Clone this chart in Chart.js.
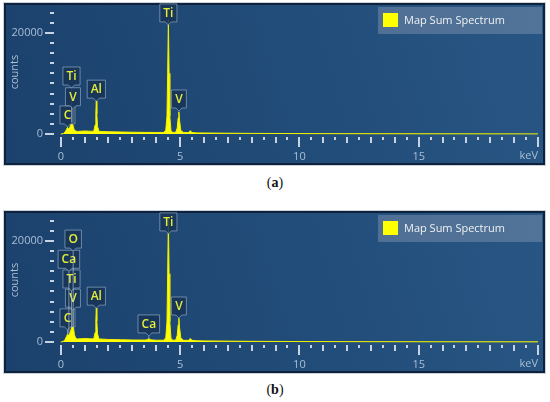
<!DOCTYPE html>
<html>
<head>
<meta charset="utf-8">
<script src="https://cdn.jsdelivr.net/npm/chart.js@4.4.1/dist/chart.umd.min.js"></script>
<style>
	body { margin: 0; background: #fff; width: 550px; height: 402px; position: relative; overflow: hidden; }
	.wrap { position: absolute; left: 0; width: 550px; height: 170px; }
	.cap { position: absolute; left: 0; width: 550px; text-align: center; font-family: "Liberation Serif", "DejaVu Serif", serif; font-size: 14px; color: #111; }
</style>
</head>
<body>
<div class="wrap" style="top:0"><canvas id="chartA" width="550" height="170"></canvas></div>
<div class="cap" style="top:175px">(<b>a</b>)</div>
<div class="wrap" style="top:208px"><canvas id="chartB" width="550" height="170"></canvas></div>
<div class="cap" style="top:382px">(<b>b</b>)</div>
<script>
// Spectrum (a)
const energyA = [0, 0.1, 0.18, 0.24, 0.28, 0.32, 0.38, 0.42, 0.45, 0.48, 0.52, 0.56, 0.62, 0.7, 0.85, 1.0, 1.2, 1.38, 1.44, 1.47, 1.49, 1.51, 1.54, 1.6, 1.8, 2.0, 2.5, 3.0, 3.5, 4.0, 4.3, 4.4, 4.45, 4.48, 4.51, 4.54, 4.57, 4.62, 4.7, 4.82, 4.88, 4.92, 4.95, 4.98, 5.03, 5.15, 5.35, 5.43, 5.5, 5.7, 6.0, 7.0, 8.0, 10, 12, 15, 20];
const countsA = [0, 50, 400, 900, 1300, 1100, 1300, 1900, 2300, 2100, 1600, 900, 600, 500, 550, 600, 550, 520, 1800, 4200, 6500, 4000, 1500, 520, 480, 450, 400, 350, 320, 300, 300, 700, 3500, 12000, 22600, 12000, 3500, 600, 300, 350, 1200, 3200, 4400, 2600, 700, 280, 300, 650, 300, 220, 200, 150, 120, 80, 60, 40, 20];
const peakNamesA = ["C", "Ti", "V", "Al", "Ti", "V"];
const peakEnergyA = [0.28, 0.45, 0.51, 1.49, 4.51, 4.95];
const peakTipA = [1400, 9100, 5000, 6500, 21600, 4550];
const peakBaseA = [1300, 2300, 2200, 6500, 21600, 4550];

// Spectrum (b)
const energyB = [0, 0.1, 0.18, 0.24, 0.28, 0.32, 0.36, 0.42, 0.46, 0.5, 0.53, 0.57, 0.62, 0.7, 0.85, 1.0, 1.2, 1.38, 1.44, 1.47, 1.49, 1.51, 1.54, 1.6, 1.8, 2.0, 2.5, 3.0, 3.5, 3.6, 3.69, 3.78, 4.0, 4.3, 4.4, 4.45, 4.48, 4.51, 4.54, 4.57, 4.62, 4.7, 4.82, 4.88, 4.92, 4.95, 4.98, 5.03, 5.15, 5.35, 5.43, 5.5, 5.7, 6.0, 7.0, 8.0, 10, 12, 15, 20];
const countsB = [0, 80, 500, 1100, 1500, 1400, 1500, 2300, 2900, 3300, 3000, 1500, 800, 600, 650, 700, 650, 600, 1900, 4300, 6700, 4200, 1600, 600, 550, 500, 450, 400, 380, 420, 650, 420, 350, 350, 800, 4000, 13500, 24500, 13500, 4000, 700, 350, 400, 1300, 3400, 4700, 2800, 800, 320, 330, 700, 330, 250, 220, 170, 130, 90, 70, 45, 25];
const peakNamesB = ["C", "V", "Ti", "Ca", "O", "Al", "Ca", "Ti", "V"];
const peakEnergyB = [0.28, 0.51, 0.45, 0.34, 0.52, 1.49, 3.69, 4.51, 4.95];
const peakTipB = [2400, 6300, 10100, 14000, 18000, 6700, 1200, 21400, 4750];
const peakBaseB = [1500, 3200, 2900, 1500, 3100, 6700, 650, 21400, 4750];

const xLabels = [0, 5, 10, 15];
const yLabels = [0, 20000];
const seriesName = "Map Sum Spectrum";

const axisColor = "#a9bfd6";
const tickColor = "#c6d3e1";
const font = { family: "'Open Sans', sans-serif", size: 11 };

// panel background, border and legend box
const panelPlugin = {
	id: "panel",
	beforeDraw(chart) {
		const c = chart.ctx;
		c.save();
		c.fillStyle = "#c9d2db";
		c.fillRect(3, 2, 543, 164);
		c.fillStyle = "#0f223b";
		c.fillRect(4, 3, 541, 162);
		const g = c.createLinearGradient(6, 160, 545, 5);
		g.addColorStop(0, "#1b416c");
		g.addColorStop(1, "#285684");
		c.fillStyle = g;
		c.fillRect(6, 5, 537, 158);
		c.restore();
	},
	afterDraw(chart) {
		const c = chart.ctx;
		c.save();
		c.fillStyle = "rgba(140,158,180,0.42)";
		c.fillRect(378, 7, 164, 27);
		c.fillStyle = "#ffff00";
		c.fillRect(383, 13, 15, 14);
		c.fillStyle = "#eef2f6";
		c.font = "11px 'Open Sans', sans-serif";
		c.textBaseline = "middle";
		c.fillText(chart.data.datasets[0].label, 404, 20.5);
		c.restore();
	},
};

// tick marks of varying length
const tickPlugin = {
	id: "ticks",
	afterDraw(chart) {
		const c = chart.ctx;
		const xs = chart.scales.x, ys = chart.scales.y;
		c.save();
		c.fillStyle = tickColor;
		for (let v = 0; v <= 24000; v += 2000) {
			const y = Math.round(ys.getPixelForValue(v));
			const x1 = v % 20000 === 0 ? 45 : 50;
			c.fillRect(x1, y - 1, 54 - x1, 2);
		}
		for (let i = 0; i <= 40; i++) {
			const v = i / 2;
			const x = Math.round(xs.getPixelForValue(v));
			let len = 3;
			if (v % 5 === 0) len = 10;
			else if (v % 1 === 0) len = 6;
			c.fillRect(x - 1, 137, 2, len);
		}
		c.restore();
	},
};

// element labels with pointer
const peakPlugin = {
	id: "peaks",
	afterDatasetsDraw(chart, args, opts) {
		const c = chart.ctx;
		const xs = chart.scales.x, ys = chart.scales.y;
		c.save();
		c.font = "600 12px 'Open Sans', sans-serif";
		c.textAlign = "center";
		c.textBaseline = "middle";
		opts.names.forEach((name, i) => {
			const x = xs.getPixelForValue(opts.energy[i]);
			const tip = ys.getPixelForValue(opts.tip[i]);
			const base = ys.getPixelForValue(opts.base[i]);
			if (base - tip > 2) {
				c.strokeStyle = "rgba(190,205,220,0.6)";
				c.lineWidth = 1;
				c.beginPath();
				c.moveTo(x, tip);
				c.lineTo(x, base);
				c.stroke();
			}
			const w = Math.max(15, c.measureText(name).width + 7);
			const h = 18;
			const top = tip - 3 - h;
			c.beginPath();
			c.moveTo(x - w / 2, top);
			c.lineTo(x + w / 2, top);
			c.lineTo(x + w / 2, top + h);
			c.lineTo(x + 3, top + h);
			c.lineTo(x, tip);
			c.lineTo(x - 3, top + h);
			c.lineTo(x - w / 2, top + h);
			c.closePath();
			c.fillStyle = "rgba(24,52,86,0.88)";
			c.fill();
			c.strokeStyle = "rgba(160,185,210,0.6)";
			c.lineWidth = 1;
			c.stroke();
			c.fillStyle = "#e4ec3c";
			c.fillText(name, x, top + h / 2 + 0.5);
		});
		c.restore();
	},
};

function makeChart(id, energy, counts, names, pEnergy, pTip, pBase) {
	return new Chart(document.getElementById(id), {
		type: "line",
		data: {
			datasets: [
				{
					label: seriesName,
					data: energy.map((e, i) => ({ x: e, y: counts[i] })),
					borderColor: "#f2f200",
					backgroundColor: "#ffff00",
					borderWidth: 1,
					pointRadius: 0,
					fill: "origin",
					tension: 0,
				},
			],
		},
		options: {
			responsive: false,
			animation: false,
			layout: { padding: { left: 4, right: 12, top: 9, bottom: 8 } },
			plugins: {
				legend: { display: false },
				tooltip: { enabled: false },
				peaks: { names: names, energy: pEnergy, tip: pTip, base: pBase },
			},
			scales: {
				x: {
					type: "linear",
					min: -0.2,
					max: 20,
					grid: { display: false },
					border: { display: false },
					afterBuildTicks: (s) => { s.ticks = xLabels.map((value) => ({ value })); },
					afterFit: (s) => { s.height = 27; s.paddingLeft = 0; s.paddingRight = 0; },
					ticks: { color: axisColor, font: font, padding: 7, maxRotation: 0, autoSkip: false, callback: (v) => String(v) },
					title: { display: true, text: "keV", align: "end", color: axisColor, font: font, padding: { top: 0, bottom: 0 } },
				},
				y: {
					type: "linear",
					min: -200,
					max: 24750,
					grid: { display: false },
					border: { display: false },
					afterBuildTicks: (s) => { s.ticks = yLabels.map((value) => ({ value })); },
					afterFit: (s) => { s.width = 52; s.paddingTop = 0; s.paddingBottom = 0; },
					ticks: { color: axisColor, font: font, padding: 5, callback: (v) => String(v) },
					title: { display: true, text: "counts", color: axisColor, font: font, padding: { top: 4, bottom: 0 } },
				},
			},
		},
		plugins: [panelPlugin, tickPlugin, peakPlugin],
	});
}

makeChart("chartA", energyA, countsA, peakNamesA, peakEnergyA, peakTipA, peakBaseA);
makeChart("chartB", energyB, countsB, peakNamesB, peakEnergyB, peakTipB, peakBaseB);
</script>
</body>
</html>
